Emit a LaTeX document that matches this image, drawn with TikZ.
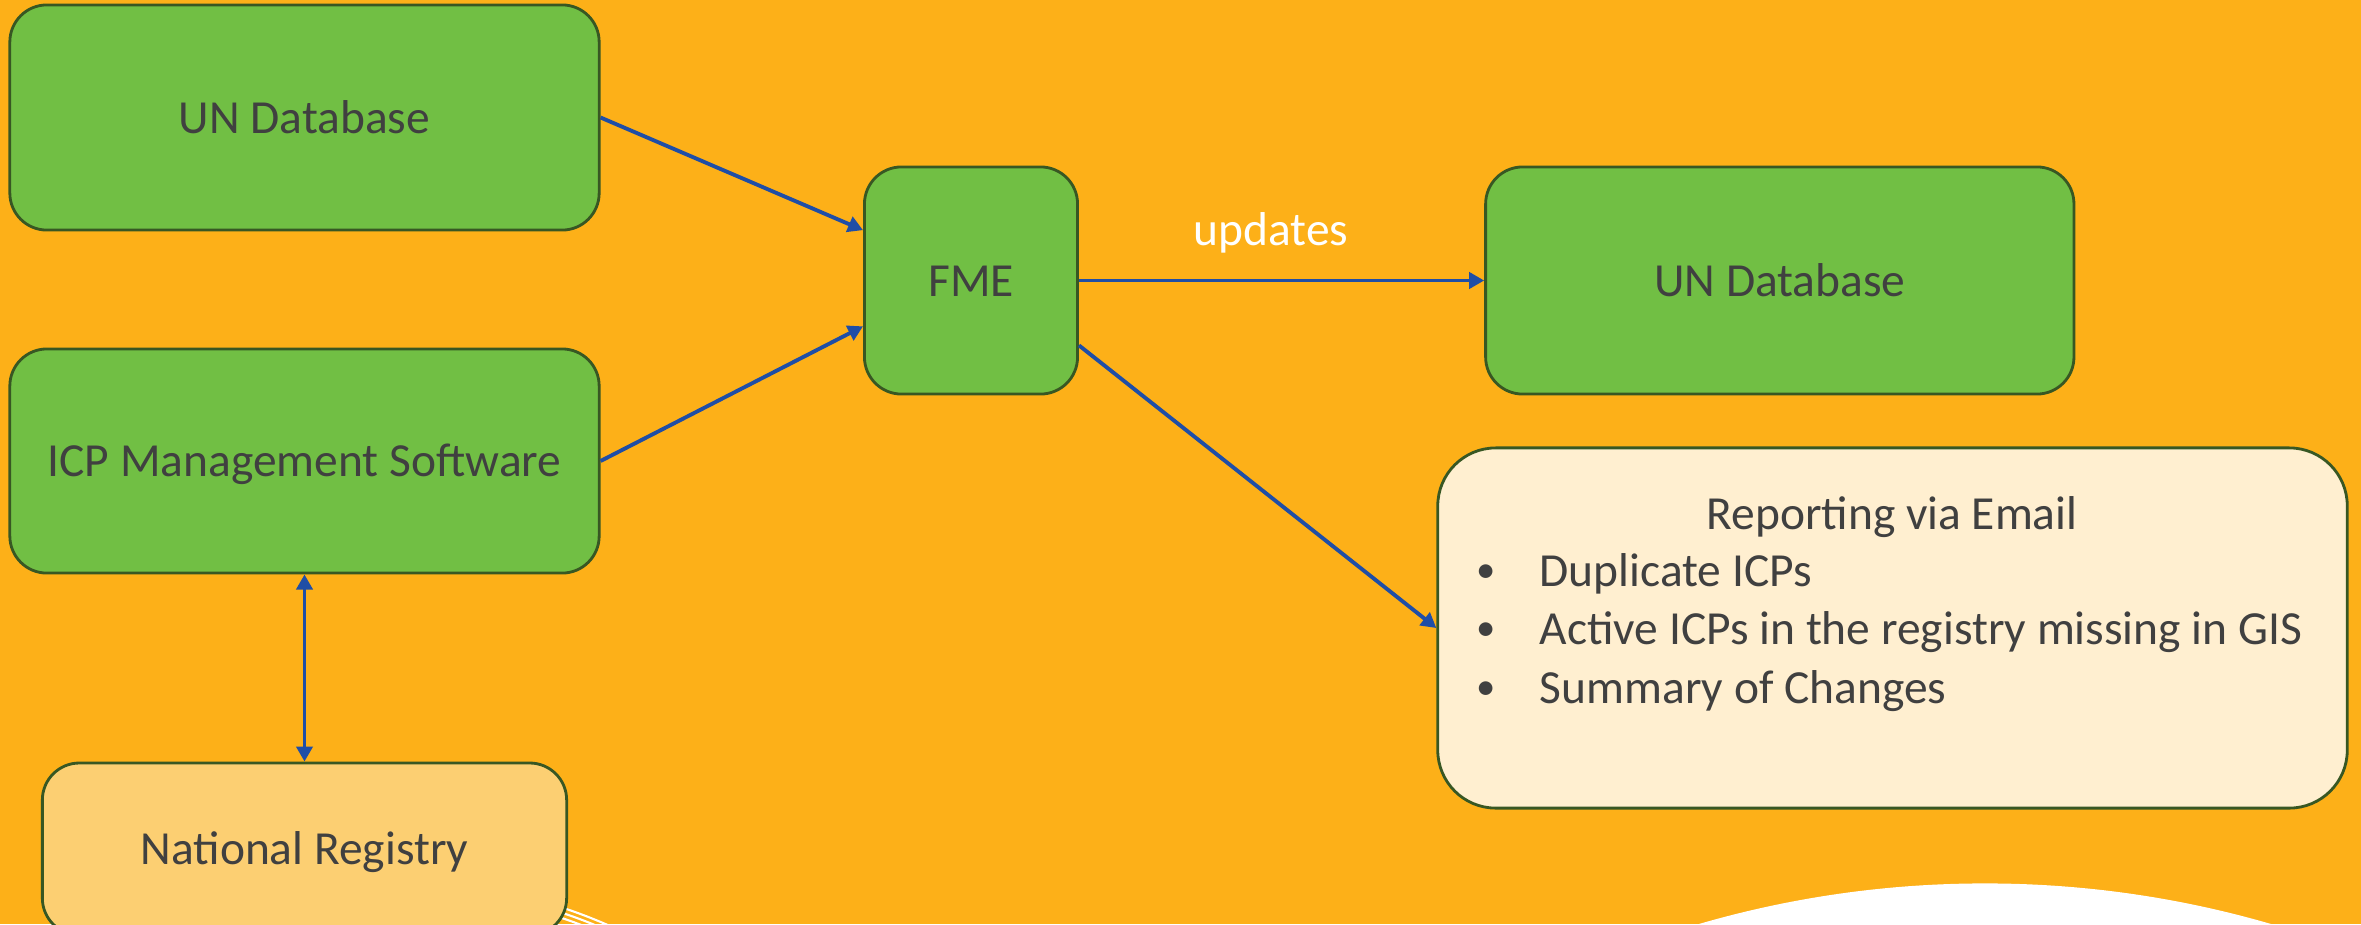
\documentclass[tikz,border=0pt]{standalone}
\usepackage{fontspec}
\setmainfont{Carlito}
\usepackage {tikz}
\usetikzlibrary{arrows.meta,positioning}
\usepackage{xcolor}
\definecolor{bgorange}{RGB}{253,176,24}
\definecolor{boxgreen}{RGB}{113,191,68}
\definecolor{boxedge}{RGB}{56,87,35}
\definecolor{regfill}{RGB}{252,207,114}
\definecolor{repfill}{RGB}{255,239,208}
\definecolor{linkblue}{RGB}{31,78,166}
\definecolor{txtgray}{RGB}{64,64,64}
\newcommand{\repbullet}{\makebox[0.63cm][l]{\raisebox{1pt}{\fontsize{11pt}{11pt}\selectfont\textbullet}}}

\begin{document}
\begin{tikzpicture}[x=0.01cm,y=-0.01cm,
	txt/.style={text=txtgray,font=\fontsize{13.5pt}{16.6pt}\selectfont,inner sep=0pt},
	box/.style={txt,draw=boxedge,line width=0.8pt,rounded corners=0.37cm,text height=0.31cm,text depth=0cm},
	greenbox/.style={box,fill=boxgreen},
	link/.style={draw=linkblue,line width=1.1pt,>={Triangle[length=0.15cm,width=0.16cm]}}]
	\useasboundingbox (0,0) rectangle (2361,924);
	\clip (0,0) rectangle (2361,924);
	\fill[bgorange] (0,0) rectangle (2361,924);
	\fill[white] (1985,1905) circle (10.21cm);
	\draw[white,line width=0.6pt] (400,1400) circle (5.08cm) circle (5.13cm) circle (5.18cm);
	\node[greenbox,minimum width=5.89cm,minimum height=2.25cm] (udbl) at (304.5,117.5) {UN Database};
	\node[greenbox,minimum width=5.89cm,minimum height=2.24cm,below=1.16cm of udbl] (icp) {ICP Management Software};
	\node[box,fill=regfill,minimum width=5.24cm,minimum height=1.72cm,below=1.87cm of icp] (natreg) {National Registry};
	\node[greenbox,minimum width=2.13cm,minimum height=2.27cm] (fme) at (971,280.5) {FME};
	\node[greenbox,minimum width=5.88cm,minimum height=2.27cm,right=4.05cm of fme] (udbr) {UN Database};
	\node[box,fill=repfill,rounded corners=0.58cm,minimum width=9.09cm,minimum height=3.6cm] (rpt) at (1892.5,628) {};
	\node[txt,anchor=base] (rtitle) at (1892,529) {Reporting via Email};
	\node[txt,anchor=base west] (ritem1) at (1476,586) {\repbullet Duplicate ICPs};
	\node[txt,anchor=base west] (ritem2) at (1476,644.5) {\repbullet Active ICPs in the registry missing in GIS};
	\node[txt,anchor=base west] (ritem3) at (1476,703) {\repbullet Summary of Changes};
	\node[txt,text=white,anchor=base] (upd) at (1271,245) {updates};
	\draw[link,->] (udbl.east) -- (fme.155);
	\draw[link,->] (icp.east) -- (fme.203);
	\draw[link,->] (fme.east) -- (udbr.west);
	\draw[link,->] (fme.-31) -- (rpt.west);
	\draw[link,<->] (icp.south) -- (natreg.north);
\end{tikzpicture}
\end{document}
